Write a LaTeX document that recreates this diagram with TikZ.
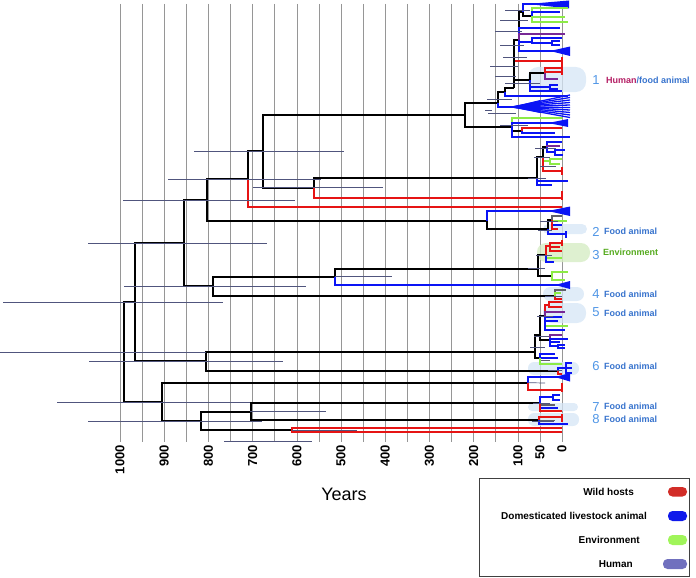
\documentclass[tikz,border=0pt]{standalone}
\usepackage{fontspec}
\setmainfont{Liberation Sans}
\definecolor{tred}{RGB}{230,20,20}
\definecolor{tblue}{RGB}{10,20,245}
\definecolor{tgreen}{RGB}{140,235,70}
\definecolor{tpurple}{RGB}{120,40,150}
\definecolor{tgrey}{RGB}{95,95,105}
\definecolor{errc}{RGB}{80,85,125}
\definecolor{gridc}{RGB}{150,150,150}
\definecolor{blobblue}{RGB}{214,230,246}
\definecolor{blobgreen}{RGB}{214,236,196}
\definecolor{numblue}{RGB}{80,150,230}
\definecolor{labblue}{RGB}{55,115,205}
\definecolor{labgreen}{RGB}{85,170,30}
\definecolor{labhuman}{RGB}{180,30,100}
\definecolor{lgred}{RGB}{210,45,40}
\definecolor{lgblue}{RGB}{15,25,235}
\definecolor{lggreen}{RGB}{160,245,90}
\definecolor{lgpurple}{RGB}{112,112,190}
\begin{document}
\begin{tikzpicture}[x=1pt,y=-1pt,
  kb/.style={line width=2pt,black},
  rb/.style={line width=2pt,tred},
  bb/.style={line width=2pt,tblue},
  gb/.style={line width=2pt,tgreen},
  pb/.style={line width=2pt,tpurple},
  gyb/.style={line width=1.5pt,tgrey},
  eb/.style={line width=0.7pt,errc},
  gridline/.style={line width=0.6pt,gridc},
  ticklab/.style={font=\bfseries\fontsize{13}{13}\selectfont,rotate=90,anchor=east,inner sep=0pt},
  blob/.style={fill=blobblue,fill opacity=0.75,draw=none},
  numlab/.style={font=\fontsize{13}{13}\selectfont,text=numblue,inner sep=0pt},
  lab/.style={font=\bfseries\fontsize{9}{9}\selectfont,text=labblue,anchor=west,inner sep=0pt},
  legtext/.style={font=\bfseries\fontsize{10}{10}\selectfont,anchor=east,inner sep=0pt},
  pill/.style={rounded corners=4.5pt,draw=none}]
\useasboundingbox (0,0) rectangle (696,578);
% grid
\foreach \yr in {0,50,...,1000} \draw[gridline] ({562-0.442*\yr},4) -- ({562-0.442*\yr},442);
% axis labels
\foreach \yr in {1000,900,800,700,600,500,400,300,200,100,50,0}
  \node[ticklab] (tk\yr) at ({562-0.442*\yr},445) {\yr};
\node[font=\fontsize{18}{18}\selectfont,inner sep=0pt] (years) at (344,494) {Years};
% blobs
\filldraw[blob,rounded corners=10pt] (528,67) rectangle (586,92);
\filldraw[blob,rounded corners=5pt] (543,224) rectangle (587,234);
\filldraw[fill=blobgreen,fill opacity=0.8,draw=none,rounded corners=9pt] (537,243) rectangle (590,262);
\filldraw[blob,rounded corners=7pt] (543,287) rectangle (584,301);
\filldraw[blob,rounded corners=9pt] (543,303) rectangle (586,323);
\filldraw[blob,rounded corners=6pt] (528,362) rectangle (579,375);
\filldraw[blob,rounded corners=4pt] (528,403) rectangle (578,411);
\filldraw[blob,rounded corners=6pt] (528,413) rectangle (579,426);
% backbone nodes
\coordinate (R) at (124,352);
\coordinate (N1) at (135,302);
\coordinate (N2) at (162,402);
\coordinate (N3) at (184,243);
\coordinate (N4) at (206,361);
\coordinate (N5) at (207,200);
\coordinate (N6) at (213,286);
\coordinate (N7) at (247.7,179);
\coordinate (N8) at (487,220.7);
\coordinate (N9) at (263.3,151);
\coordinate (N10) at (465,115);
\coordinate (N11) at (314,187.7);
\coordinate (N12) at (335,276.7);
\coordinate (N13) at (200.7,421);
\coordinate (N14) at (250.7,411.7);
\coordinate (NR) at (291.7,430);
% cluster roots
\coordinate (TA) at (498,103);
\coordinate (TB) at (512,127);
\coordinate (TC) at (537,177.7);
\coordinate (C2) at (548,229);
\coordinate (C3) at (538,269);
\coordinate (C4) at (555,295.7);
\coordinate (C5) at (535,351.7);
\coordinate (C6) at (558,370.7);
\coordinate (C6b) at (528,382.7);
\coordinate (C7) at (540,402.7);
\coordinate (C8) at (539,420);
% backbone tips
\coordinate (tR206) at (562,206.7);
\coordinate (tR197) at (562,197.7);
\coordinate (tB211) at (562,211);
\coordinate (tB285) at (562,285);
\coordinate (tR427) at (562,427.7);
\coordinate (tR432) at (562,432.3);
% backbone edges
\draw[kb] (R) |- (N1); \draw[kb] (R) |- (N2);
\draw[kb] (N1) |- (N3); \draw[kb] (N1) |- (N4);
\draw[kb] (N3) |- (N5); \draw[kb] (N3) |- (N6);
\draw[kb] (N5) |- (N7); \draw[kb] (N5) |- (N8);
\draw[kb] (N7) |- (N9); \draw[rb] (N7) |- (tR206);
\draw[kb] (N9) |- (N10); \draw[kb] (N9) |- (N11);
\draw[kb] (N10) |- (TA); \draw[kb] (N10) |- (TB);
\draw[kb] (N11) |- (TC); \draw[rb] (N11) |- (tR197);
\draw[bb] (N8) |- (tB211); \draw[kb] (N8) |- (C2);
\draw[kb] (N6) |- (N12); \draw[kb] (N6) |- (C4);
\draw[kb] (N12) |- (C3); \draw[bb] (N12) |- (tB285);
\draw[kb] (N4) |- (C5); \draw[kb] (N4) |- (C6);
\draw[kb] (N2) |- (C6b); \draw[kb] (N2) |- (N13);
\draw[kb] (N13) |- (N14); \draw[kb] (N13) |- (NR);
\draw[rb] (NR) |- (tR427); \draw[rb] (NR) |- (tR432);
\draw[kb] (N14) |- (C7); \draw[kb] (N14) |- (C8);
\fill[tblue] (548,211) -- (570,206.5) -- (570,216) -- cycle;
\fill[tblue] (555,285) -- (570,281) -- (570,289) -- cycle;
% ---- cluster TA
\coordinate (TA1) at (505,92);
\coordinate (TA2) at (514,88);
\coordinate (TA3) at (519,40);
\coordinate (TA5) at (530,80);
\coordinate (TA6) at (545,73);
\coordinate (TA7) at (523,12);
\coordinate (TA8) at (532,42);
\coordinate (TA9) at (532,16);
\coordinate (TA10) at (550,87);
\coordinate (TA11) at (552,43);
\coordinate (tFan) at (512,107);
\coordinate (tB96) at (568,96);
\coordinate (tR61) at (562,61);
\coordinate (tB28) at (560,28);
\coordinate (tP34) at (565,34);
\coordinate (tB51) at (560,51);
\coordinate (tB38) at (562,38);
\coordinate (tB41) at (560,41);
\coordinate (tB45) at (560,45);
\coordinate (tTop) at (569,4);
\coordinate (tG8) at (568,8);
\coordinate (tB12) at (560,12);
\coordinate (tG17) at (565,17);
\coordinate (tG22) at (568,22);
\coordinate (tR68) at (562,68);
\coordinate (tR72) at (562,72);
\coordinate (tP79) at (558,79);
\coordinate (tB85) at (558,85);
\coordinate (tB89) at (558,89);
\coordinate (tB91) at (562,91);
\draw[kb] (TA) |- (TA1); \draw[bb] (TA) |- (tFan);
\foreach \fy in {95,97.5,...,118} \draw[tblue,line width=1.3pt] (tFan) -- (570,\fy);
\fill[tblue] (tFan) -- (540,100) -- (540,113) -- cycle;
\draw[rb] (TA2) |- (tR61);
\draw[kb,line width=2.6pt] (TA1) |- (TA2); \draw[bb] (TA1) |- (tB96);
\draw[kb,line width=2.6pt] (TA2) |- (TA3); \draw[kb] (TA2) |- (TA5);
\draw[kb] (TA3) |- (TA7); \draw[bb] (TA3) |- (tB28); \draw[pb] (TA3) |- (tP34);
\draw[bb] (TA3) |- (TA8); \draw[bb] (TA3) |- (tB51);
\fill[tblue] (550,51) -- (570,46.5) -- (570,56) -- cycle;
\draw[bb] (TA8) |- (tB38); \draw[bb] (TA8) |- (TA11);
\draw[bb] (TA11) |- (tB41); \draw[bb] (TA11) |- (tB45);
\draw[bb] (TA7) |- (tTop); \draw[kb] (TA7) |- (TA9);
\fill[tblue] (528,4) -- (569,0.5) -- (569,8.5) -- cycle;
\draw[gb] (TA9) |- (tG8); \draw[bb] (TA9) |- (tB12); \draw[gb] (TA9) |- (tG17); \draw[gb] (TA9) |- (tG22);
\draw[kb] (TA5) |- (TA6); \draw[bb] (TA5) |- (TA10); \draw[bb] (TA5) |- (tB91);
\draw[rb] (TA6) |- (tR68); \draw[rb] (TA6) |- (tR72); \draw[pb] (TA6) |- (tP79);
\draw[bb] (TA10) |- (tB85); \draw[bb] (TA10) |- (tB89);
\draw[rb] (562,57) -- (562,65); \draw[rb] (562,65.5) -- (562,75);
% ---- cluster TB
\coordinate (TB1) at (522,131);
\coordinate (tG118) at (562,118);
\coordinate (tB123) at (568,123);
\coordinate (tR128) at (562,128);
\coordinate (tB133) at (555,133);
\coordinate (tB137) at (570,137);
\draw[gb] (TB) |- (tG118); \draw[bb] (TB) |- (tB123); \draw[kb] (TB) |- (TB1); \draw[bb] (TB) |- (tB137);
\fill[tblue] (548,123) -- (568,119) -- (568,127) -- cycle;
\draw[rb] (TB1) |- (tR128); \draw[bb] (TB1) |- (tB133);
% ---- cluster TC
\coordinate (TC1) at (543,157);
\coordinate (TC2) at (547,147);
\coordinate (TCb) at (555,152);
\coordinate (TCg) at (550,161);
\coordinate (tB181) at (568,181);
\coordinate (tB184) at (552,184.5);
\coordinate (tR171) at (562,171);
\coordinate (tB142) at (562,142);
\coordinate (tP146) at (560,146);
\coordinate (tB150) at (565,150);
\coordinate (tB154) at (563,154.5);
\coordinate (tG159) at (562,159);
\coordinate (tG163) at (560,163.5);
\draw[kb] (TC) |- (TC1); \draw[bb] (TC) |- (tB181); \draw[bb] (TC) |- (tB184);
\draw[kb] (TC1) |- (TC2); \draw[gb] (TC1) |- (TCg); \draw[rb] (TC1) |- (tR171);
\draw[bb] (TC2) |- (tB142); \draw[pb] (TC2) |- (tP146); \draw[bb] (TC2) |- (TCb);
\draw[bb] (TCb) |- (tB150); \draw[bb] (TCb) |- (tB154);
\draw[gb] (TCg) |- (tG159); \draw[gb] (TCg) |- (tG163);
\draw[rb] (562,167) -- (562,175); \draw[rb] (562,191) -- (562,200);
% ---- cluster 2
\coordinate (C2a) at (552,220);
\coordinate (tB234) at (566,234);
\coordinate (tK216) at (562,216);
\coordinate (tG221) at (567,221);
\coordinate (tB225) at (562,225);
\coordinate (tR228) at (558,228.5);
\draw[kb] (C2) |- (C2a); \draw[bb] (C2) |- (tB234);
\draw[bb] (566,231) -- (566,237.5);
\draw[gyb] (C2a) |- (tK216); \draw[gb] (C2a) |- (tG221); \draw[bb] (C2a) |- (tB225); \draw[rb] (C2a) |- (tR228);
% ---- cluster 3
\coordinate (C3a) at (546,255);
\coordinate (C3b) at (552,276);
\coordinate (C3c) at (550,246);
\coordinate (tG258) at (562,258);
\coordinate (tB262) at (554,262);
\coordinate (tR243) at (562,243);
\coordinate (tR247) at (560,247);
\coordinate (tR250) at (562,250.5);
\coordinate (tG272) at (568,272);
\coordinate (tG280) at (565,280);
\draw[kb] (C3) |- (C3a); \draw[kb] (C3) |- (C3b);
\draw[rb] (C3a) |- (C3c); \draw[gb] (C3a) |- (tG258); \draw[bb] (C3a) |- (tB262);
\draw[rb] (C3c) |- (tR243); \draw[rb] (C3c) |- (tR247); \draw[rb] (C3c) |- (tR250);
\draw[rb] (562,240) -- (562,246);
\draw[gb] (C3b) |- (tG272); \draw[gb] (C3b) |- (tG280);
% ---- cluster 4
\coordinate (tK290) at (566,290);
\coordinate (tG293) at (561,293);
\coordinate (tR299) at (562,299);
\draw[gyb] (C4) |- (tK290); \draw[gb] (C4) |- (tG293); \draw[rb] (C4) |- (tR299);
% ---- cluster 5
\coordinate (C5a) at (540,335);
\coordinate (C5b) at (540,358);
\coordinate (C5c) at (545,316);
\coordinate (C5d) at (550,340);
\coordinate (C5e) at (549,305);
\coordinate (C5f) at (558,346);
\coordinate (tR302) at (562,302);
\coordinate (tR307) at (562,307);
\coordinate (tP312) at (565,312);
\coordinate (tB317) at (562,317);
\coordinate (tB320) at (558,320.5);
\coordinate (tG326) at (568,326);
\coordinate (tB329) at (565,329.5);
\coordinate (tP335) at (562,335);
\coordinate (tB338) at (568,338.5);
\coordinate (tB342) at (560,342);
\coordinate (tB344) at (565,344.5);
\coordinate (tB348) at (565,348);
\coordinate (tB354) at (555,354);
\coordinate (tB357) at (558,357.5);
\coordinate (tK360) at (550,360.5);
\coordinate (tG364) at (562,364);
\draw[kb] (C5) |- (C5a); \draw[kb] (C5) |- (C5b);
\draw[kb] (C5a) |- (C5c); \draw[kb] (C5a) |- (C5d);
\draw[rb] (C5c) |- (C5e); \draw[pb] (C5c) |- (tP312); \draw[bb] (C5c) |- (tB317);
\draw[bb] (C5c) |- (tB320); \draw[gb] (C5c) |- (tG326); \draw[bb] (C5c) |- (tB329);
\draw[rb] (C5e) |- (tR302); \draw[rb] (C5e) |- (tR307);
\draw[pb] (C5d) |- (tP335); \draw[bb] (C5d) |- (tB338); \draw[bb] (C5d) |- (tB342); \draw[bb] (C5d) |- (C5f);
\draw[bb] (C5f) |- (tB344); \draw[bb] (C5f) |- (tB348);
\draw[bb] (C5b) |- (tB354); \draw[bb] (C5b) |- (tB357); \draw[gyb] (C5b) |- (tK360); \draw[gb] (C5b) |- (tG364);
% ---- cluster 6
\coordinate (C6a) at (566,368);
\coordinate (tR373) at (562,373.5);
\coordinate (tB363) at (572,363);
\coordinate (tB368) at (572,368);
\coordinate (tB372) at (572,372.5);
\draw[bb] (C6) |- (C6a); \draw[rb] (C6) |- (tR373);
\draw[bb] (C6a) |- (tB363); \draw[bb] (C6a) |- (tB368); \draw[bb] (C6a) |- (tB372);
% ---- cluster 6b
\coordinate (tB377) at (562,377);
\coordinate (tR390) at (562,390);
\coordinate (tK383) at (545,383);
\draw[bb] (C6b) |- (tB377); \draw[rb] (C6b) |- (tR390);
\draw[eb] (C6b) -- (tK383);
\fill[tblue] (555,377) -- (570,373) -- (570,381.5) -- cycle;
\draw[rb] (562,383) -- (562,392);
% ---- cluster 7
\coordinate (C7a) at (553,397);
\coordinate (tK405) at (555,405);
\coordinate (tB407) at (558,407.5);
\coordinate (tR410) at (562,410.5);
\coordinate (tB395) at (560,394.5);
\coordinate (tB400) at (560,399.5);
\draw[bb] (C7) |- (C7a); \draw[gyb] (C7) |- (tK405); \draw[bb] (C7) |- (tB407); \draw[rb] (C7) |- (tR410);
\draw[bb] (C7a) |- (tB395); \draw[bb] (C7a) |- (tB400);
% ---- cluster 8
\coordinate (tR417) at (562,417);
\coordinate (tK420) at (555,420.5);
\coordinate (tB423) at (568,423.5);
\draw[rb] (C8) |- (tR417); \draw[gyb] (C8) |- (tK420); \draw[bb] (C8) |- (tB423);
\draw[rb] (562,414) -- (562,421.5);
% ---- error bars
\draw[eb] (0,352) -- (206,352);
\draw[eb] (3,302) -- (223,302);
\draw[eb] (57,402) -- (250,402);
\draw[eb] (88,243) -- (267,243);
\draw[eb] (89,361) -- (283,361);
\draw[eb] (123,200) -- (295,200);
\draw[eb] (124,286) -- (306,286);
\draw[eb] (168,179) -- (321,179);
\draw[eb] (194,151) -- (344,151);
\draw[eb] (253,187.7) -- (383,187.7);
\draw[eb] (335,276.7) -- (392,276.7);
\draw[eb] (88,421) -- (262,421);
\draw[eb] (250,411.7) -- (326,411.7);
\draw[eb] (292,430) -- (357,430);
\draw[eb] (224,441.5) -- (312,441.5);
\draw[eb] (485,110) -- (492,110);
\foreach \ya/\xa/\xb in {10/505/530,20/500/528,31/495/522,45/500/524,57/503/527,66/490/518,76/495/516,83/505/540,99/487/512,113/488/516,125/500/528,148/535/556,157/534/550,166/540/556,178/528/546,221/540/558,230/538/552,255/536/552,268/528/545,296/545/562,316/537/553,336/534/549,347/530/545,370/548/562,403/533/550,421/532/554}
  \draw[eb] (\xa,\ya) -- (\xb,\ya);
% ---- labels
\node[numlab] (n1) at (596,80) {1};
\node[lab] (l1) at (606,80) {\textcolor{labhuman}{Human}/food animal};
\node[numlab] (n2) at (596,232) {2};
\node[lab] (l2) at (604,231) {Food animal};
\node[numlab] (n3) at (596,255) {3};
\node[lab,text=labgreen] (l3) at (603,252.7) {Environment};
\node[numlab] (n4) at (596,294) {4};
\node[lab] (l4) at (604,294) {Food animal};
\node[numlab] (n5) at (596,312) {5};
\node[lab] (l5) at (604,313) {Food animal};
\node[numlab] (n6) at (596,366) {6};
\node[lab] (l6) at (604,366) {Food animal};
\node[numlab] (n7) at (596,407) {7};
\node[lab] (l7) at (604,406) {Food animal};
\node[numlab] (n8) at (596,419) {8};
\node[lab] (l8) at (604,419) {Food animal};
% ---- legend
\draw[line width=0.8pt,black!75] (479.5,478.5) rectangle (689.5,576.5);
\node[legtext] (lw) at (634,492) {Wild hosts};
\node[legtext] (ld) at (647,516) {Domesticated livestock animal};
\node[legtext] (le) at (640,540) {Environment};
\node[legtext] (lh) at (633,564) {Human};
\fill[pill,lgred] (668,487) rectangle (687,496.5);
\fill[pill,lgblue] (668,511) rectangle (687,521);
\fill[pill,lggreen] (668,535) rectangle (687,545);
\fill[pill,lgpurple] (663,559) rectangle (687,569);
\end{tikzpicture}
\end{document}
